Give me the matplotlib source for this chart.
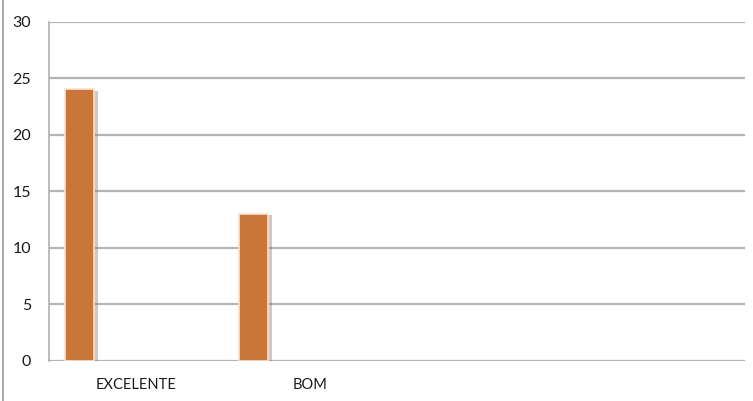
import matplotlib.pyplot as plt
import matplotlib.patheffects as pe
import numpy as np

# Respostas por categoria
categorias = ['EXCELENTE', 'BOM', '', '']
valores = [24, 13, 0, 0]
yticks = [0, 5, 10, 15, 20, 25, 30]

cor_barra = '#c8763a'
cor_grade = '#b4b4b4'

fig = plt.figure(figsize=(7.53, 4.01), dpi=100)
ax = fig.add_axes([49/753, 40/401, 696/753, 339.5/401])

x = np.arange(len(categorias))
desloc = -0.324
largura = 0.166

# so desenha barras com valor
idx = [i for i, v in enumerate(valores) if v > 0]
barras = ax.bar(x[idx] + desloc, [valores[i] for i in idx], width=largura,
                color=cor_barra, edgecolor='#fbe3cf', linewidth=1.2, zorder=3)
for b in barras:
    b.set_path_effects([pe.SimplePatchShadow(offset=(3, -1), shadow_rgbFace='#7f7f7f', alpha=0.4),
                        pe.Normal()])

ax.set_xlim(-0.5, len(categorias) - 0.5)
ax.set_ylim(0, 30)
ax.set_yticks(yticks)
ax.set_xticks(x)
ax.set_xticklabels(categorias, fontsize=10.5, family='Lato', color='#1a1a1a')
ax.set_yticklabels([str(v) for v in yticks], fontsize=11.5, family='Lato', color='#1a1a1a')
ax.tick_params(length=0)
ax.tick_params(axis='y', pad=13)
ax.tick_params(axis='x', pad=12)

ax.yaxis.grid(True, color=cor_grade, linewidth=1.6, zorder=0)
ax.set_axisbelow(True)
for lado in ['top', 'right', 'bottom']:
    ax.spines[lado].set_visible(False)
ax.spines['left'].set_color('#b0b0b0')
ax.spines['left'].set_linewidth(1.2)

# borda esquerda do quadro
fig.add_artist(plt.Line2D([3/753, 3/753], [0, 1], color='#9a9a9a', linewidth=1.2))

fig.savefig('out.png', dpi=100)
